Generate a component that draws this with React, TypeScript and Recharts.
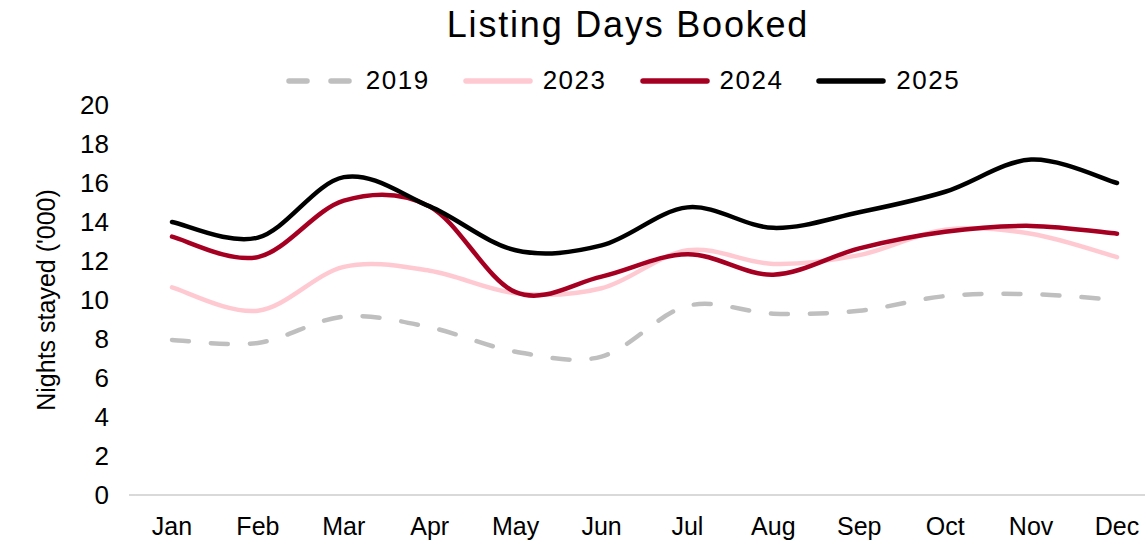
import { LineChart, Line, XAxis, YAxis } from 'recharts'

const months = ['Jan', 'Feb', 'Mar', 'Apr', 'May', 'Jun', 'Jul', 'Aug', 'Sep', 'Oct', 'Nov', 'Dec']
const y2019 = [7.95, 7.8, 9.15, 8.6, 7.35, 7.1, 9.7, 9.3, 9.45, 10.2, 10.3, 10.0]
const y2023 = [10.65, 9.45, 11.7, 11.5, 10.35, 10.6, 12.55, 11.85, 12.3, 13.6, 13.4, 12.2]
const y2024 = [13.25, 12.2, 15.1, 14.8, 10.4, 11.2, 12.35, 11.3, 12.65, 13.5, 13.8, 13.4]
const y2025 = [14.0, 13.2, 16.3, 14.8, 12.55, 12.8, 14.75, 13.7, 14.5, 15.55, 17.2, 16.0]
const yTicks = [0, 2, 4, 6, 8, 10, 12, 14, 16, 18, 20]

const series = [
  { key: '2019', color: '#BFBFBF', dash: '17 22' },
  { key: '2023', color: '#FFC9D2' },
  { key: '2024', color: '#A50021' },
  { key: '2025', color: '#000000' },
]

const data = months.map((m, i) => ({
  month: m,
  '2019': y2019[i],
  '2023': y2023[i],
  '2024': y2024[i],
  '2025': y2025[i],
}))

const FONT = "'Liberation Sans', Arial, sans-serif"

// Excel-style smoothed line (Catmull-Rom through the points)
function excelCurve(context: any) {
  let pts: number[][] = []
  return {
    areaStart() {},
    areaEnd() {},
    lineStart() {
      pts = []
    },
    lineEnd() {
      if (!pts.length) return
      context.moveTo(pts[0][0], pts[0][1])
      for (let i = 0; i < pts.length - 1; i++) {
        const p0 = pts[i - 1] || pts[i]
        const p1 = pts[i]
        const p2 = pts[i + 1]
        const p3 = pts[i + 2] || p2
        context.bezierCurveTo(
          p1[0] + (p2[0] - p0[0]) / 6,
          p1[1] + (p2[1] - p0[1]) / 6,
          p2[0] - (p3[0] - p1[0]) / 6,
          p2[1] - (p3[1] - p1[1]) / 6,
          p2[0],
          p2[1],
        )
      }
    },
    point(x: number, y: number) {
      pts.push([+x, +y])
    },
  }
}

function LegendRow() {
  return (
    <div
      style={{
        position: 'absolute',
        top: 65,
        left: 0,
        width: 1246,
        display: 'flex',
        justifyContent: 'center',
        gap: 33,
        fontFamily: FONT,
        fontSize: 26,
        letterSpacing: 1.5,
        color: '#000',
      }}
    >
      {series.map((s) => (
        <div key={s.key} style={{ display: 'flex', alignItems: 'center', gap: 10 }}>
          <svg width={70} height={10}>
            <line
              x1={3}
              y1={5}
              x2={67}
              y2={5}
              stroke={s.color}
              strokeWidth={5.5}
              strokeLinecap="round"
              strokeDasharray={s.dash ? '18 24' : undefined}
            />
          </svg>
          <span>{s.key}</span>
        </div>
      ))}
    </div>
  )
}

export default function App() {
  return (
    <div style={{ position: 'absolute', left: 0, top: 0, width: 1145, height: 540, overflow: 'hidden', background: '#fff' }}>
      <div
        style={{
          position: 'absolute',
          top: 4,
          left: 0,
          width: 1256,
          textAlign: 'center',
          fontFamily: FONT,
          fontSize: 36,
          letterSpacing: 1.8,
          color: '#000',
        }}
      >
        Listing Days Booked
      </div>
      <LegendRow />
      <LineChart width={1160} height={540} data={data} margin={{ top: 105, right: 0, bottom: 0, left: 0 }}>
        <XAxis
          dataKey="month"
          axisLine={{ stroke: '#D9D9D9', strokeWidth: 2 }}
          tickLine={false}
          height={45}
          interval={0}
          padding={{ left: 43, right: 43 }}
          tick={{ fill: '#000', fontSize: 25, fontFamily: FONT }}
          dy={14}
        />
        <YAxis
          domain={[0, 20]}
          ticks={yTicks}
          width={129}
          axisLine={false}
          tickLine={false}
          tick={{ fill: '#000', fontSize: 26, fontFamily: FONT }}
          dx={-12}
          label={{
            value: "Nights stayed ('000)",
            angle: -90,
            position: 'insideLeft',
            dx: 41,
            style: { textAnchor: 'middle', fill: '#000', fontSize: 25, fontFamily: FONT },
          }}
        />
        {series.map((s) => (
          <Line
            key={s.key}
            dataKey={s.key}
            type={excelCurve as any}
            stroke={s.color}
            strokeWidth={4.5}
            strokeDasharray={s.dash}
            strokeLinecap="round"
            dot={false}
            activeDot={false}
            isAnimationActive={false}
          />
        ))}
      </LineChart>
    </div>
  )
}
